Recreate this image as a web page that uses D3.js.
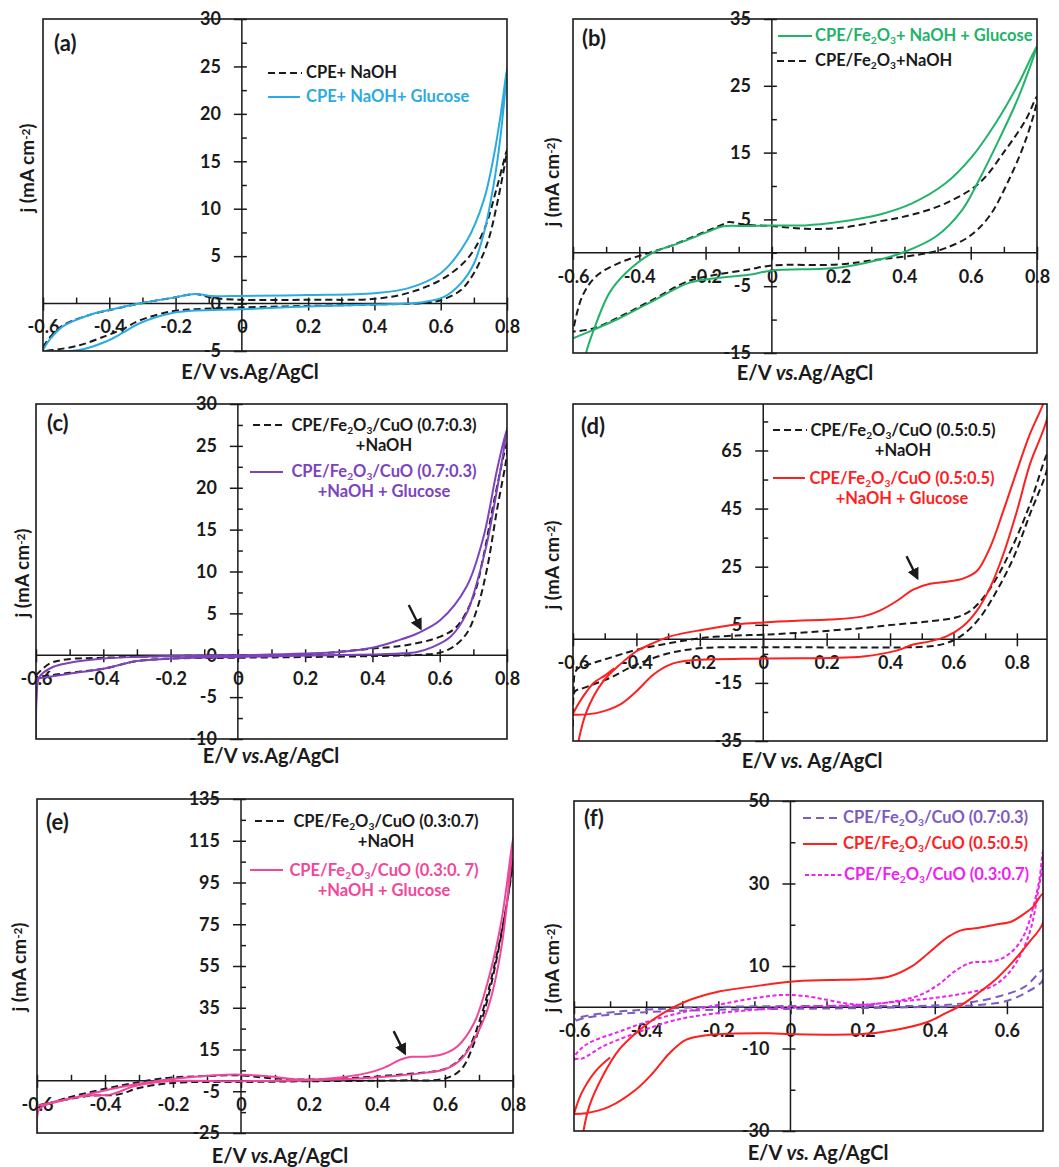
<!DOCTYPE html>
<html>
<head>
<meta charset="utf-8">
<script src="https://cdn.jsdelivr.net/npm/d3@7"></script>
<style>
  body { margin: 0; background: #fff; }
  text { font-family: Lato, "Open Sans", sans-serif; font-weight: 700; }
</style>
</head>
<body>
<svg width="1059" height="1167"></svg>
<script>

//// CYCLIC VOLTAMMOGRAMS, SIX PANELS ////

// tick values
var xLabels = [-0.6, -0.4, -0.2, 0, 0.2, 0.4, 0.6, 0.8];
var xMinor = [-0.5, -0.3, -0.1, 0.1, 0.3, 0.5, 0.7];
var xLabelsF = [-0.6, -0.4, -0.2, 0, 0.2, 0.4, 0.6];
var xMinorF = [-0.5, -0.3, -0.1, 0.1, 0.3, 0.5];

var yLabelsA = [-5, 0, 5, 10, 15, 20, 25, 30];
var yMinorA = [-2.5, 2.5, 7.5, 12.5, 17.5, 22.5, 27.5];
var yLabelsB = [-15, -5, 5, 15, 25, 35];
var yMinorB = [-10, 0, 10, 20, 30];
var yLabelsC = [-10, -5, 0, 5, 10, 15, 20, 25, 30];
var yMinorC = [-7.5, -2.5, 2.5, 7.5, 12.5, 17.5, 22.5, 27.5];
var yLabelsD = [-35, -15, 5, 25, 45, 65];
var yMinorD = [-25, -5, 15, 35, 55, 75];
var yLabelsE = [-25, -5, 15, 35, 55, 75, 95, 115, 135];
var yMinorE = [-15, 5, 25, 45, 65, 85, 105, 125];
var yLabelsF = [-30, -10, 10, 30, 50];
var yMinorF = [-20, 0, 20, 40];

// curves: [E (V), j (mA cm-2)], forward scan then reverse scan
var aNaOH = [[-0.6, -4.6], [-0.58, -3.6], [-0.54, -2.3], [-0.46, -1.2], [-0.4, -0.7], [-0.31, 0], [-0.21, 0.6], [-0.14, 1.0], [-0.09, 0.6], [0, 0.4], [0.2, 0.4], [0.4, 0.5], [0.5, 1.1], [0.6, 2.5], [0.68, 4.7], [0.73, 7.7], [0.77, 12.3], [0.8, 16.2],
  [0.77, 10.5], [0.74, 6.3], [0.7, 3.2], [0.66, 1.4], [0.6, 0.35], [0.55, 0.07], [0.4, -0.1], [0.2, -0.25], [0, -0.4], [-0.14, -0.6], [-0.21, -0.8], [-0.31, -1.8], [-0.36, -2.7], [-0.41, -3.4], [-0.49, -4.4], [-0.57, -4.9], [-0.6, -5]];
var aGlucose = [[-0.6, -4.9], [-0.58, -3.8], [-0.54, -2.4], [-0.46, -1.2], [-0.4, -0.67], [-0.31, 0], [-0.21, 0.6], [-0.14, 1.0], [-0.09, 0.8], [0, 0.8], [0.2, 0.9], [0.4, 1.1], [0.5, 1.6], [0.6, 3.2], [0.68, 6.7], [0.73, 10.9], [0.76, 15.5], [0.78, 19.7], [0.8, 24.8],
  [0.78, 17.5], [0.76, 12.6], [0.73, 7.4], [0.7, 4.2], [0.66, 2.1], [0.61, 0.7], [0.55, 0.17], [0.5, 0], [0.4, -0.1], [0.2, -0.3], [0, -0.6], [-0.14, -0.74], [-0.21, -1.0], [-0.31, -2.1], [-0.36, -3.1], [-0.41, -4.0], [-0.49, -4.9], [-0.6, -5.0]];

var bNaOH = [[-0.597, -11], [-0.572, -6.5], [-0.53, -3.5], [-0.46, -1.5], [-0.39, -0.3], [-0.31, 0.95], [-0.19, 3.4], [-0.15, 4.2], [-0.13, 4.6], [-0.08, 4.2], [0, 4.0], [0.1, 3.6], [0.2, 3.7], [0.323, 4.7], [0.423, 5.7], [0.524, 7.4], [0.625, 10.4], [0.705, 15.4], [0.766, 19.9], [0.8, 23.4],
  [0.8, 22.7], [0.766, 16.9], [0.715, 10.9], [0.655, 5.4], [0.594, 2.4], [0.524, 0.7], [0.474, 0], [0.41, -0.5], [0.323, -1.0], [0.2, -1.75], [0, -1.9], [-0.07, -2.5], [-0.17, -3.3], [-0.25, -4.2], [-0.37, -7.3], [-0.46, -9.6], [-0.537, -11.3], [-0.6, -11.8]];
var bGlucose = [[-0.575, -20], [-0.562, -15.3], [-0.537, -11.5], [-0.49, -6.0], [-0.44, -3.0], [-0.36, 0], [-0.28, 1.45], [-0.19, 3.2], [-0.15, 3.95], [-0.07, 4.0], [0, 4.1], [0.1, 4.1], [0.2, 4.6], [0.323, 5.7], [0.423, 7.4], [0.524, 10.4], [0.604, 14.4], [0.675, 19.4], [0.745, 25.4], [0.8, 31],
  [0.745, 23.4], [0.685, 16.9], [0.625, 10.9], [0.574, 6.4], [0.494, 2.4], [0.393, 0], [0.323, -1.05], [0.2, -2.25], [0, -2.65], [-0.07, -3.3], [-0.17, -3.8], [-0.25, -4.5], [-0.37, -7.5], [-0.46, -9.8], [-0.537, -11.5], [-0.6, -12.8]];

var cNaOH = [[-0.6, -2.4], [-0.56, -1.0], [-0.51, -0.5], [-0.4, -0.3], [-0.2, -0.1], [0, 0], [0.2, 0.1], [0.4, 0.8], [0.5, 1.2], [0.6, 2.2], [0.65, 3.4], [0.7, 7.0], [0.73, 11.8], [0.76, 18.1], [0.8, 25.3],
  [0.8, 24.1], [0.77, 17.3], [0.74, 10.2], [0.71, 5.4], [0.68, 2.6], [0.64, 1.0], [0.6, 0.3], [0.55, 0.08], [0.4, -0.1], [0, -0.3], [-0.2, -0.4], [-0.3, -0.7], [-0.4, -1.6], [-0.5, -2.1], [-0.6, -2.6]];
var cGlucose = [[-0.6, -10.5], [-0.598, -5], [-0.59, -2.6], [-0.55, -1.4], [-0.5, -0.9], [-0.4, -0.4], [-0.3, -0.2], [-0.2, -0.1], [0, 0], [0.2, 0.2], [0.3, 0.4], [0.4, 0.9], [0.47, 1.7], [0.533, 2.6], [0.602, 4.2], [0.68, 8.2], [0.73, 14.1], [0.77, 22.1], [0.8, 27.1],
  [0.77, 19.7], [0.74, 13.3], [0.71, 8.6], [0.68, 5.0], [0.632, 2.2], [0.58, 1.0], [0.533, 0.4], [0.48, 0.2], [0.4, 0.1], [0, -0.2], [-0.2, -0.4], [-0.3, -0.7], [-0.4, -1.6], [-0.5, -2.2], [-0.6, -2.8]];

var dNaOH = [[-0.6, -30], [-0.598, -18], [-0.589, -10.5], [-0.54, -8.3], [-0.484, -6.4], [-0.4, -3.6], [-0.294, -1.3], [-0.189, 0.5], [-0.084, 1.3], [0, 1.6], [0.105, 2.2], [0.315, 3.9], [0.42, 5.1], [0.526, 6.2], [0.61, 7.6], [0.652, 9.7], [0.694, 14.3], [0.736, 21.1], [0.789, 32.6], [0.841, 46.4], [0.896, 63.7],
  [0.896, 59], [0.841, 43], [0.789, 28], [0.736, 16.6], [0.683, 7.4], [0.63, 1.6], [0.578, -1.3], [0.526, -2.4], [0.315, -2.8], [0, -2.7], [-0.189, -3.0], [-0.294, -4.7], [-0.4, -8.7], [-0.484, -13.3], [-0.568, -16.8], [-0.594, -17.9], [-0.6, -22]];
var dGlucose = [[-0.59, -40], [-0.584, -35.7], [-0.557, -24.8], [-0.505, -14.5], [-0.452, -8.7], [-0.4, -4.1], [-0.347, -1.3], [-0.294, 1.0], [-0.189, 3.3], [-0.084, 5.1], [0, 5.8], [0.105, 6.4], [0.21, 6.8], [0.315, 7.9], [0.368, 9.9], [0.42, 13.1], [0.473, 17.1], [0.526, 19.1], [0.589, 20.0], [0.63, 20.9], [0.673, 23.4], [0.715, 31.5], [0.757, 44.1], [0.8, 58], [0.841, 70.6], [0.883, 81], [0.91, 90],
  [0.896, 76.3], [0.841, 60.2], [0.8, 44.1], [0.757, 29.2], [0.715, 17.7], [0.673, 9.7], [0.63, 4.5], [0.578, 1.0], [0.526, -0.7], [0.473, -1.8], [0.42, -3.9], [0.315, -5.9], [0.21, -6.4], [0, -6.6], [-0.242, -7.4], [-0.294, -8.7], [-0.347, -12.2], [-0.4, -17.9], [-0.452, -22.5], [-0.526, -25.4], [-0.594, -26], [-0.6, -26]];
var dGlucoseStart = [[-0.6, -25.5], [-0.57, -20], [-0.535, -15], [-0.5, -12.5], [-0.47, -10]];

var eNaOH = [[-0.6, -12.9], [-0.51, -8.1], [-0.41, -4.2], [-0.314, -1.0], [-0.216, 1.4], [-0.118, 2.2], [0, 2.6], [0.078, 1.4], [0.176, 0.6], [0.275, 1.0], [0.373, 1.8], [0.47, 3.0], [0.57, 4.6], [0.618, 7.0], [0.667, 15], [0.706, 31], [0.745, 55], [0.784, 87], [0.8, 106],
  [0.8, 104.5], [0.765, 69.3], [0.725, 39], [0.686, 18.2], [0.647, 5.4], [0.598, 1.0], [0.47, 0.2], [0.2, -0.2], [0, -0.6], [-0.2, -1.0], [-0.3, -3.4], [-0.36, -6.5], [-0.45, -7.3], [-0.6, -11.8]];
var eGlucose = [[-0.6, -26], [-0.595, -14], [-0.578, -11.8], [-0.51, -8.9], [-0.41, -5.0], [-0.314, -1.8], [-0.216, 0.6], [-0.118, 2.2], [-0.02, 3.0], [0.078, 2.2], [0.176, 0.6], [0.275, 1.4], [0.373, 3.8], [0.42, 6.2], [0.47, 10.2], [0.5, 11.5], [0.54, 11.5], [0.59, 12.6], [0.637, 16.6], [0.686, 27.8], [0.725, 47], [0.765, 75.7], [0.8, 116.5],
  [0.765, 63], [0.725, 34.2], [0.686, 19.8], [0.647, 10.2], [0.598, 5.4], [0.54, 3.8], [0.47, 2.6], [0.373, 1.4], [0.275, 0.6], [0, -0.2], [-0.216, -0.2], [-0.314, -2.6], [-0.382, -6.5], [-0.46, -7.3], [-0.6, -12.1]];

var f73 = [[-0.6, -4.5], [-0.599, -3.1], [-0.567, -2.1], [-0.475, -1.05], [-0.382, -0.5], [-0.244, 0], [0, 0.3], [0.2, 0.3], [0.392, 0.4], [0.484, 1.0], [0.576, 2.6], [0.65, 5.0], [0.7, 9.05],
  [0.7, 6.6], [0.65, 3.4], [0.594, 1.4], [0.53, 0.6], [0.438, 0.2], [0.2, -0.2], [0, -0.4], [-0.2, -0.6], [-0.4, -1.2], [-0.5, -1.8], [-0.57, -2.6], [-0.6, -3.4]];
var f55 = [[-0.585, -36], [-0.576, -31], [-0.558, -24.1], [-0.521, -16.8], [-0.475, -10.3], [-0.429, -6.3], [-0.382, -3.1], [-0.336, -0.6], [-0.29, 1.4], [-0.198, 3.8], [-0.106, 5.0], [0, 6.2], [0.106, 6.6], [0.198, 6.8], [0.272, 7.4], [0.336, 9.9], [0.382, 13.1], [0.438, 17.1], [0.475, 18.7], [0.52, 19.2], [0.567, 20.0], [0.613, 20.8], [0.65, 22.8], [0.673, 24.4], [0.7, 27.5],
  [0.7, 20.5], [0.659, 15.5], [0.613, 10.7], [0.567, 6.6], [0.52, 3.4], [0.475, 0.6], [0.429, -1.5], [0.382, -3.5], [0.29, -5.5], [0.198, -6.5], [0, -6.5], [-0.06, -6.3], [-0.226, -6.7], [-0.29, -7.9], [-0.336, -11.2], [-0.382, -16], [-0.429, -20], [-0.502, -24.1], [-0.567, -25.7], [-0.6, -25.9]];
var f55Start = [[-0.6, -25.9], [-0.58, -21], [-0.54, -15.5], [-0.5, -12.2]];
var f37 = [[-0.6, -13], [-0.599, -12], [-0.567, -9.1], [-0.475, -5.9], [-0.382, -3.1], [-0.29, -1.05], [-0.2, 0.6], [-0.1, 2.2], [-0.02, 3.0], [0.05, 2.6], [0.1, 1.8], [0.15, 1.0], [0.2, 0.6], [0.3, 1.6], [0.36, 3.0], [0.41, 5.5], [0.46, 9], [0.5, 10.8], [0.54, 11.0], [0.58, 11.6], [0.62, 14], [0.65, 18], [0.675, 25], [0.69, 31], [0.7, 38],
  [0.7, 35], [0.687, 28.4], [0.668, 19.6], [0.64, 13.1], [0.604, 8.2], [0.558, 5.0], [0.484, 3.4], [0.392, 2.2], [0.3, 1.4], [0.2, 0.6], [0, 0], [-0.244, -1.9], [-0.336, -3.5], [-0.429, -6.3], [-0.52, -9.5], [-0.576, -12.4], [-0.6, -12.8], [-0.6, -35]];

// arrows marking the glucose oxidation shoulder
var cArrow = [[0.508, 6.0], [0.543, 3.2]];
var dArrow = [[0.452, 28.6], [0.486, 21.1]];
var eArrow = [[0.449, 23.8], [0.482, 13.1]];

// colours
var black = "#1a1a1a", blue = "#2aabe2", green = "#22b36b", purple = "#7d43bd",
    red = "#ff1f1f", pink = "#f0479c", lilac = "#7d5cc0", magenta = "#ee22ee";

var dashBlack = "7,4";
var legendSize = 16.5, tickSize = 18;

var panels = [
  {
    id: "a", left: 43, right: 507, top: 19, bottom: 351, xDomain: [-0.6, 0.8], yDomain: [-5, 30],
    xLabels: xLabels, xMinor: xMinor, yLabels: yLabelsA, yMinor: yMinorA,
    series: [{ data: aNaOH, color: black, dash: dashBlack }, { data: aGlucose, color: blue }],
    legend: [
      { x1: 268, x2: 302, y: 73, color: black, dash: dashBlack, tx: 306, ty: 78, anchor: "start", lines: ["CPE+ NaOH"] },
      { x1: 268, x2: 300, y: 97, color: blue, tx: 306, ty: 102, anchor: "start", lines: ["CPE+ NaOH+ Glucose"] }
    ],
    tag: [54, 51], title: [250, 379, ["E/V vs.Ag/AgCl"]], ylab: [27, 168]
  },
  {
    id: "b", left: 573, right: 1037, top: 19, bottom: 353, xDomain: [-0.6, 0.8], yDomain: [-15, 35],
    xLabels: xLabels, xMinor: xMinor, yLabels: yLabelsB, yMinor: yMinorB,
    series: [{ data: bNaOH, color: black, dash: dashBlack }, { data: bGlucose, color: green }],
    legend: [
      { x1: 778, x2: 812, y: 36, color: green, tx: 815, ty: 41, anchor: "start", lines: ["CPE/Fe_2O_3+ NaOH + Glucose"] },
      { x1: 777, x2: 810, y: 61, color: black, dash: dashBlack, tx: 815, ty: 66, anchor: "start", lines: ["CPE/Fe_2O_3+NaOH"] }
    ],
    tag: [582, 46], title: [805, 380, ["E/V ", "*vs.", "Ag/AgCl"]], ylab: [552, 182]
  },
  {
    id: "c", left: 36, right: 507, top: 404, bottom: 739, xDomain: [-0.6, 0.8], yDomain: [-10, 30],
    xLabels: xLabels, xMinor: xMinor, yLabels: yLabelsC, yMinor: yMinorC,
    series: [{ data: cNaOH, color: black, dash: dashBlack }, { data: cGlucose, color: purple }],
    legend: [
      { x1: 253, x2: 285, y: 425, color: black, dash: dashBlack, tx: 384, ty: 431, anchor: "middle", lines: ["CPE/Fe_2O_3/CuO (0.7:0.3)", "+NaOH"] },
      { x1: 250, x2: 283, y: 472, color: purple, tx: 384, ty: 477, anchor: "middle", lines: ["CPE/Fe_2O_3/CuO (0.7:0.3)", "+NaOH + Glucose"] }
    ],
    arrow: cArrow, tag: [47, 431], title: [271, 763, ["E/V ", "*vs.", "Ag/AgCl"]], ylab: [22, 573]
  },
  {
    id: "d", left: 573, right: 1047, top: 404, bottom: 741, xDomain: [-0.6, 0.895], yDomain: [-35, 81],
    xLabels: xLabels, xMinor: xMinor, yLabels: yLabelsD, yMinor: yMinorD,
    series: [{ data: dNaOH, color: black, dash: dashBlack }, { data: dGlucose, color: red }, { data: dGlucoseStart, color: red }],
    legend: [
      { x1: 773, x2: 807, y: 430, color: black, dash: dashBlack, tx: 903, ty: 436, anchor: "middle", lines: ["CPE/Fe_2O_3/CuO (0.5:0.5)", "+NaOH"] },
      { x1: 773, x2: 805, y: 478, color: red, tx: 902, ty: 484, anchor: "middle", lines: ["CPE/Fe_2O_3/CuO (0.5:0.5)", "+NaOH + Glucose"] }
    ],
    arrow: dArrow, tag: [581, 434], title: [812, 768, ["E/V ", "*vs.", " Ag/AgCl"]], ylab: [552, 565]
  },
  {
    id: "e", left: 37, right: 513, top: 799, bottom: 1133, xDomain: [-0.6, 0.8], yDomain: [-25, 135],
    xLabels: xLabels, xMinor: xMinor, yLabels: yLabelsE, yMinor: yMinorE,
    series: [{ data: eNaOH, color: black, dash: dashBlack }, { data: eGlucose, color: pink }],
    legend: [
      { x1: 255, x2: 288, y: 821, color: black, dash: dashBlack, tx: 386, ty: 827, anchor: "middle", lines: ["CPE/Fe_2O_3/CuO (0.3:0.7)", "+NaOH"] },
      { x1: 250, x2: 283, y: 870, color: pink, tx: 384, ty: 876, anchor: "middle", lines: ["CPE/Fe_2O_3/CuO (0.3:0. 7)", "+NaOH + Glucose"] }
    ],
    arrow: eArrow, tag: [46, 830], title: [280, 1163, ["E/V ", "*vs.", "Ag/AgCl"]], ylab: [19, 967]
  },
  {
    id: "f", left: 574, right: 1043, top: 801, bottom: 1131, xDomain: [-0.6, 0.7], yDomain: [-30, 50],
    xLabels: xLabelsF, xMinor: xMinorF, yLabels: yLabelsF, yMinor: yMinorF,
    series: [{ data: f73, color: lilac, dash: "8,5" }, { data: f37, color: magenta, dash: "4,2.5" },
             { data: f55, color: red }, { data: f55Start, color: red }],
    legend: [
      { x1: 803, x2: 837, y: 818, color: lilac, dash: "8,5", tx: 843, ty: 823, anchor: "start", lines: ["CPE/Fe_2O_3/CuO (0.7:0.3)"] },
      { x1: 803, x2: 837, y: 844, color: red, tx: 843, ty: 849, anchor: "start", lines: ["CPE/Fe_2O_3/CuO (0.5:0.5)"] },
      { x1: 805, x2: 842, y: 875, color: magenta, dash: "4,2.5", tx: 844, ty: 880, anchor: "start", lines: ["CPE/Fe_2O_3/CuO (0.3:0.7)"] }
    ],
    tag: [584, 826], title: [818, 1160, ["E/V ", "*vs.", " Ag/AgCl"]], ylab: [552, 968]
  }
];

var svg = d3.select("svg");

svg.append("defs").append("marker")
    .attr("id", "arrowhead")
    .attr("viewBox", "0 0 10 10")
    .attr("refX", 8).attr("refY", 5)
    .attr("markerWidth", 5).attr("markerHeight", 5)
    .attr("orient", "auto")
    .append("path")
    .attr("d", "M0,0 L10,5 L0,10 z")
    .attr("fill", black);

// writes "_2" as subscript and "^-2" as superscript
function richText(el, str, size) {
    str.split(/(_\d|\^-?\d)/).forEach(function (t) {
        if (!t) return;
        var span = el.append("tspan");
        if (t[0] === "_") {
            span.attr("baseline-shift", "-25%").attr("font-size", size * 0.62).text(t.slice(1));
        } else if (t[0] === "^") {
            span.attr("baseline-shift", "35%").attr("font-size", size * 0.62).text(t.slice(1));
        } else {
            span.text(t);
        }
    });
}

function drawPanel(p) {
    var x = d3.scaleLinear().domain(p.xDomain).range([p.left, p.right]),
        y = d3.scaleLinear().domain(p.yDomain).range([p.bottom, p.top]);

    var g = svg.append("g").attr("class", "panel-" + p.id);

    g.append("clipPath").attr("id", "clip-" + p.id)
        .append("rect")
        .attr("x", p.left).attr("y", p.top)
        .attr("width", p.right - p.left).attr("height", p.bottom - p.top);

    // axis lines through the origin
    g.append("line")
        .attr("x1", p.left).attr("x2", p.right)
        .attr("y1", y(0)).attr("y2", y(0))
        .attr("stroke", black).attr("stroke-width", 1.5);
    g.append("line")
        .attr("x1", x(0)).attr("x2", x(0))
        .attr("y1", p.top).attr("y2", p.bottom)
        .attr("stroke", black).attr("stroke-width", 1.5);

    // y ticks (cross the vertical axis) and labels
    var yl = g.append("g")
        .attr("transform", "translate(" + x(0) + ",0)")
        .call(d3.axisLeft(y).tickValues(p.yLabels).tickSize(8).tickPadding(13).tickFormat(String));
    var yr = g.append("g")
        .attr("transform", "translate(" + x(0) + ",0)")
        .call(d3.axisRight(y).tickValues(p.yLabels.concat(p.yMinor)).tickSize(5).tickFormat(""));

    // x ticks and labels
    var xb = g.append("g")
        .attr("transform", "translate(0," + y(0) + ")")
        .call(d3.axisBottom(x).tickValues(p.xLabels).tickSize(7).tickPadding(10).tickFormat(String));
    var xt = g.append("g")
        .attr("transform", "translate(0," + y(0) + ")")
        .call(d3.axisTop(x).tickValues(p.xLabels.concat(p.xMinor)).tickSize(6).tickFormat(""));

    [yl, yr, xb, xt].forEach(function (a) {
        a.select(".domain").remove();
        a.selectAll("line").attr("stroke", black).attr("stroke-width", 1.5);
        a.selectAll("text")
            .attr("fill", black)
            .style("font-family", "Lato, 'Open Sans', sans-serif")
            .style("font-weight", 700)
            .style("font-size", tickSize + "px");
    });

    // curves
    var line = d3.line()
        .x(function (d) { return x(d[0]); })
        .y(function (d) { return y(d[1]); })
        .curve(d3.curveCatmullRom.alpha(0.5));

    p.series.forEach(function (s) {
        g.append("path")
            .datum(s.data)
            .attr("clip-path", "url(#clip-" + p.id + ")")
            .attr("d", line)
            .attr("fill", "none")
            .attr("stroke", s.color)
            .attr("stroke-width", 2)
            .attr("stroke-dasharray", s.dash || null);
    });

    // arrow
    if (p.arrow) {
        g.append("line")
            .attr("x1", x(p.arrow[0][0])).attr("y1", y(p.arrow[0][1]))
            .attr("x2", x(p.arrow[1][0])).attr("y2", y(p.arrow[1][1]))
            .attr("stroke", black).attr("stroke-width", 2.4)
            .attr("marker-end", "url(#arrowhead)");
    }

    // frame
    g.append("rect")
        .attr("x", p.left).attr("y", p.top)
        .attr("width", p.right - p.left).attr("height", p.bottom - p.top)
        .attr("fill", "none").attr("stroke", black).attr("stroke-width", 1.6);

    // legend
    p.legend.forEach(function (l) {
        g.append("line")
            .attr("x1", l.x1).attr("x2", l.x2).attr("y1", l.y).attr("y2", l.y)
            .attr("stroke", l.color).attr("stroke-width", 2)
            .attr("stroke-dasharray", l.dash || null);
        l.lines.forEach(function (str, i) {
            var t = g.append("text")
                .attr("x", l.tx).attr("y", l.ty + i * 20)
                .attr("text-anchor", l.anchor)
                .attr("fill", l.color)
                .attr("font-size", legendSize);
            richText(t, str, legendSize);
        });
    });

    // panel tag
    g.append("text")
        .attr("x", p.tag[0]).attr("y", p.tag[1])
        .attr("font-size", 22).attr("fill", black)
        .text("(" + p.id + ")");

    // x title, parts starting with * are italic
    var title = g.append("text")
        .attr("x", p.title[0]).attr("y", p.title[1])
        .attr("text-anchor", "middle")
        .attr("font-size", 20).attr("fill", black);
    p.title[2].forEach(function (part) {
        title.append("tspan")
            .style("font-style", part[0] === "*" ? "italic" : "normal")
            .text(part[0] === "*" ? part.slice(1) : part);
    });

    // y title
    var yt = g.append("text")
        .attr("transform", "translate(" + p.ylab[0] + "," + p.ylab[1] + ") rotate(-90)")
        .attr("text-anchor", "middle")
        .attr("dy", "0.35em")
        .attr("font-size", 19).attr("fill", black);
    richText(yt, "j (mA cm^-2)", 19);
}

panels.forEach(drawPanel);

</script>
</body>
</html>
